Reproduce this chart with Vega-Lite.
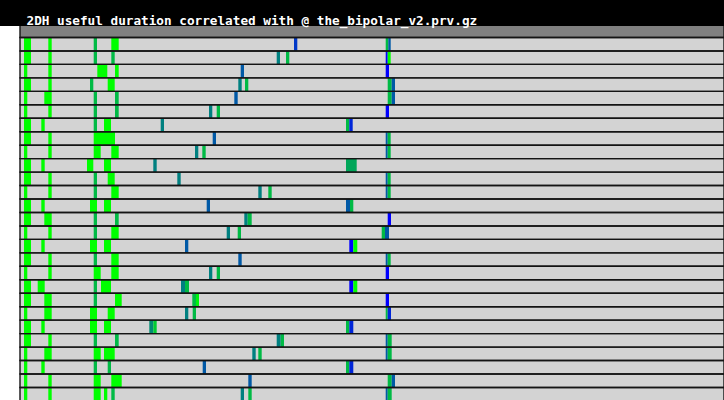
{
  "$schema": "https://vega.github.io/schema/vega-lite/v6.json",
  "width": 724,
  "height": 374,
  "autosize": "none",
  "padding": {"top": 26, "left": 0, "right": 0, "bottom": 0},
  "background": "black",
  "title": {
    "text": "2DH useful duration correlated with @ the_bipolar_v2.prv.gz",
    "color": "white",
    "font": "DejaVu Sans Mono",
    "fontWeight": "bold",
    "fontSize": 12.7,
    "anchor": "start",
    "frame": "group",
    "baseline": "alphabetic",
    "offset": -12,
    "dx": 26.5
  },
  "config": {"view": {"fill": "white", "stroke": null}},
  "datasets": {
    "rows": [
      {"row": 0}, {"row": 1}, {"row": 2}, {"row": 3}, {"row": 4}, {"row": 5}, {"row": 6}, {"row": 7},
      {"row": 8}, {"row": 9}, {"row": 10}, {"row": 11}, {"row": 12}, {"row": 13}, {"row": 14},
      {"row": 15}, {"row": 16}, {"row": 17}, {"row": 18}, {"row": 19}, {"row": 20}, {"row": 21},
      {"row": 22}, {"row": 23}, {"row": 24}, {"row": 25}, {"row": 26}, {"row": 27}
    ],
    "events": [
      {"row":1,"start":4,"end":11,"value":0},{"row":1,"start":28.3,"end":31.7,"value":0},{"row":1,"start":73.7,"end":77,"value":0.27},{"row":1,"start":91.3,"end":98.7,"value":0},{"row":1,"start":274,"end":277.3,"value":0.78},{"row":1,"start":365.7,"end":368.3,"value":0.27},{"row":1,"start":368.3,"end":370.7,"value":0.65},
      {"row":2,"start":4,"end":11,"value":0},{"row":2,"start":28.3,"end":31.7,"value":0},{"row":2,"start":73.7,"end":77,"value":0.27},{"row":2,"start":91.3,"end":94.7,"value":0.27},{"row":2,"start":256.7,"end":260,"value":0.5},{"row":2,"start":266,"end":269.3,"value":0.27},{"row":2,"start":365.7,"end":367.7,"value":1},{"row":2,"start":367.7,"end":370.7,"value":0},
      {"row":3,"start":4,"end":7.3,"value":0},{"row":3,"start":28.3,"end":31.7,"value":0},{"row":3,"start":77.3,"end":87.3,"value":0},{"row":3,"start":95,"end":98.7,"value":0},{"row":3,"start":220.7,"end":224,"value":0.65},{"row":3,"start":365.7,"end":369,"value":1},
      {"row":4,"start":4,"end":11,"value":0},{"row":4,"start":28.3,"end":31.7,"value":0},{"row":4,"start":70,"end":73.3,"value":0.27},{"row":4,"start":87.7,"end":94.7,"value":0},{"row":4,"start":218.3,"end":221.7,"value":0.5},{"row":4,"start":225,"end":228.3,"value":0.27},{"row":4,"start":367.7,"end":371.7,"value":0.27},{"row":4,"start":371.7,"end":375,"value":0.65},
      {"row":5,"start":4,"end":7.3,"value":0},{"row":5,"start":24.3,"end":31.7,"value":0},{"row":5,"start":73.7,"end":77,"value":0.27},{"row":5,"start":95,"end":98.7,"value":0.27},{"row":5,"start":214.3,"end":217.7,"value":0.65},{"row":5,"start":367.7,"end":371.7,"value":0.27},{"row":5,"start":371.7,"end":375,"value":0.65},
      {"row":6,"start":4,"end":7.3,"value":0},{"row":6,"start":28.3,"end":31.7,"value":0},{"row":6,"start":73.7,"end":77,"value":0.27},{"row":6,"start":95,"end":98.7,"value":0.27},{"row":6,"start":189,"end":192.3,"value":0.5},{"row":6,"start":196.7,"end":200,"value":0.27},{"row":6,"start":365.7,"end":369,"value":1},
      {"row":7,"start":4,"end":11,"value":0},{"row":7,"start":21.3,"end":24.7,"value":0},{"row":7,"start":73.7,"end":77,"value":0.27},{"row":7,"start":84,"end":91,"value":0},{"row":7,"start":140.7,"end":144,"value":0.5},{"row":7,"start":326,"end":329.3,"value":0.27},{"row":7,"start":329.3,"end":332.7,"value":0.85},
      {"row":8,"start":4,"end":11,"value":0},{"row":8,"start":28.3,"end":31.7,"value":0},{"row":8,"start":73.7,"end":95,"value":0},{"row":8,"start":192.7,"end":196,"value":0.65},{"row":8,"start":365.7,"end":367.7,"value":0.65},{"row":8,"start":367.7,"end":370.7,"value":0.27},
      {"row":9,"start":4,"end":7.3,"value":0},{"row":9,"start":28.3,"end":31.7,"value":0},{"row":9,"start":73.7,"end":80.7,"value":0},{"row":9,"start":91.3,"end":98.7,"value":0},{"row":9,"start":175,"end":178.3,"value":0.5},{"row":9,"start":182.3,"end":185.7,"value":0.27},{"row":9,"start":365.7,"end":367.7,"value":0.65},{"row":9,"start":367.7,"end":370.7,"value":0.27},
      {"row":10,"start":4,"end":11,"value":0},{"row":10,"start":21.3,"end":24.7,"value":0},{"row":10,"start":67,"end":73.3,"value":0},{"row":10,"start":84,"end":91,"value":0},{"row":10,"start":133.3,"end":136.7,"value":0.5},{"row":10,"start":326,"end":336.7,"value":0.35},
      {"row":11,"start":4,"end":11,"value":0},{"row":11,"start":28.3,"end":31.7,"value":0},{"row":11,"start":73.7,"end":77,"value":0.27},{"row":11,"start":87.7,"end":94.7,"value":0},{"row":11,"start":157.3,"end":160.7,"value":0.5},{"row":11,"start":365.7,"end":367.7,"value":0.65},{"row":11,"start":367.7,"end":370.7,"value":0.27},
      {"row":12,"start":4,"end":7.3,"value":0},{"row":12,"start":28.3,"end":31.7,"value":0},{"row":12,"start":73.7,"end":77,"value":0.27},{"row":12,"start":91.3,"end":98.7,"value":0},{"row":12,"start":238.3,"end":241.7,"value":0.5},{"row":12,"start":248.3,"end":251.7,"value":0.27},{"row":12,"start":365.7,"end":367.7,"value":0.65},{"row":12,"start":367.7,"end":370.7,"value":0.27},
      {"row":13,"start":4,"end":11,"value":0},{"row":13,"start":21.3,"end":24.7,"value":0},{"row":13,"start":70,"end":77,"value":0},{"row":13,"start":84,"end":91,"value":0},{"row":13,"start":186.7,"end":190,"value":0.65},{"row":13,"start":326,"end":330,"value":0.65},{"row":13,"start":330,"end":333.3,"value":0.27},
      {"row":14,"start":4,"end":11,"value":0},{"row":14,"start":24.3,"end":31.7,"value":0},{"row":14,"start":73.7,"end":77,"value":0.27},{"row":14,"start":95,"end":98.7,"value":0.27},{"row":14,"start":224.3,"end":227.7,"value":0.5},{"row":14,"start":227.7,"end":231.7,"value":0.27},{"row":14,"start":367.7,"end":371,"value":1},
      {"row":15,"start":4,"end":7.3,"value":0},{"row":15,"start":28.3,"end":31.7,"value":0},{"row":15,"start":73.7,"end":77,"value":0.27},{"row":15,"start":91.3,"end":98.7,"value":0},{"row":15,"start":206.7,"end":210,"value":0.5},{"row":15,"start":217.7,"end":221,"value":0.27},{"row":15,"start":361.7,"end":365,"value":0.27},{"row":15,"start":365,"end":369,"value":0.65},
      {"row":16,"start":4,"end":11,"value":0},{"row":16,"start":21.3,"end":24.7,"value":0},{"row":16,"start":70,"end":77,"value":0},{"row":16,"start":84,"end":91,"value":0},{"row":16,"start":165,"end":168.3,"value":0.65},{"row":16,"start":329.3,"end":333.3,"value":1},{"row":16,"start":333.3,"end":337.3,"value":0},
      {"row":17,"start":4,"end":11,"value":0},{"row":17,"start":28.3,"end":31.7,"value":0},{"row":17,"start":73.7,"end":77,"value":0.27},{"row":17,"start":91.3,"end":98.7,"value":0},{"row":17,"start":218.3,"end":221.7,"value":0.65},{"row":17,"start":365.7,"end":367.7,"value":0.65},{"row":17,"start":367.7,"end":370.7,"value":0.27},
      {"row":18,"start":4,"end":7.3,"value":0},{"row":18,"start":28.3,"end":31.7,"value":0},{"row":18,"start":73.7,"end":80.7,"value":0},{"row":18,"start":91.3,"end":98.7,"value":0},{"row":18,"start":189,"end":192.3,"value":0.5},{"row":18,"start":196.7,"end":200,"value":0.27},{"row":18,"start":365.7,"end":369,"value":1},
      {"row":19,"start":4,"end":11,"value":0},{"row":19,"start":17.7,"end":24.7,"value":0},{"row":19,"start":73.7,"end":77,"value":0.27},{"row":19,"start":81,"end":91,"value":0},{"row":19,"start":161,"end":165,"value":0.5},{"row":19,"start":165,"end":169,"value":0.27},{"row":19,"start":329.3,"end":333.3,"value":1},{"row":19,"start":333.3,"end":337.3,"value":0},
      {"row":20,"start":4,"end":11,"value":0},{"row":20,"start":24.3,"end":31.7,"value":0},{"row":20,"start":73.7,"end":77,"value":0.27},{"row":20,"start":95,"end":101.7,"value":0},{"row":20,"start":172.3,"end":176,"value":0.27},{"row":20,"start":176,"end":179,"value":0.05},{"row":20,"start":365.7,"end":369,"value":1},
      {"row":21,"start":4,"end":7.3,"value":0},{"row":21,"start":24.3,"end":31.7,"value":0},{"row":21,"start":70,"end":77,"value":0},{"row":21,"start":87.7,"end":94.7,"value":0},{"row":21,"start":165,"end":168.3,"value":0.5},{"row":21,"start":172.7,"end":176,"value":0.27},{"row":21,"start":365.7,"end":367.7,"value":0.27},{"row":21,"start":367.7,"end":371,"value":0.85},
      {"row":22,"start":4,"end":11,"value":0},{"row":22,"start":21.3,"end":24.7,"value":0},{"row":22,"start":70,"end":77,"value":0},{"row":22,"start":84,"end":91,"value":0},{"row":22,"start":129.3,"end":133.3,"value":0.45},{"row":22,"start":133.3,"end":136.7,"value":0.2},{"row":22,"start":326,"end":329.3,"value":0.27},{"row":22,"start":329.3,"end":333.3,"value":0.85},
      {"row":23,"start":4,"end":11,"value":0},{"row":23,"start":28.3,"end":31.7,"value":0},{"row":23,"start":73.7,"end":77,"value":0.27},{"row":23,"start":95,"end":98.7,"value":0.27},{"row":23,"start":256.7,"end":260.7,"value":0.5},{"row":23,"start":260.7,"end":264,"value":0.27},{"row":23,"start":365.7,"end":367.7,"value":0.65},{"row":23,"start":367.7,"end":371.7,"value":0.27},
      {"row":24,"start":4,"end":7.3,"value":0},{"row":24,"start":24.3,"end":31.7,"value":0},{"row":24,"start":73.7,"end":80.7,"value":0},{"row":24,"start":84,"end":94.7,"value":0},{"row":24,"start":232.3,"end":235.7,"value":0.5},{"row":24,"start":238.3,"end":241.7,"value":0.27},{"row":24,"start":365.7,"end":367.7,"value":0.65},{"row":24,"start":367.7,"end":371.7,"value":0.27},
      {"row":25,"start":4,"end":7.3,"value":0},{"row":25,"start":21.3,"end":24.7,"value":0},{"row":25,"start":73.7,"end":77,"value":0.27},{"row":25,"start":87.7,"end":91,"value":0.27},{"row":25,"start":182.7,"end":186,"value":0.65},{"row":25,"start":326,"end":329.3,"value":0.27},{"row":25,"start":329.3,"end":333.3,"value":0.85},
      {"row":26,"start":4,"end":7.3,"value":0},{"row":26,"start":28.3,"end":31.7,"value":0},{"row":26,"start":73.7,"end":80.7,"value":0},{"row":26,"start":91.3,"end":101.7,"value":0},{"row":26,"start":228.3,"end":231.7,"value":0.65},{"row":26,"start":367.7,"end":371.7,"value":0.27},{"row":26,"start":371.7,"end":375,"value":0.65},
      {"row":27,"start":4,"end":7.3,"value":0},{"row":27,"start":28.3,"end":31.7,"value":0},{"row":27,"start":73.7,"end":80.7,"value":0},{"row":27,"start":84,"end":87.3,"value":0},{"row":27,"start":91.3,"end":94.7,"value":0.27},{"row":27,"start":220.7,"end":224,"value":0.5},{"row":27,"start":228.3,"end":231.7,"value":0.27},{"row":27,"start":365.7,"end":367.7,"value":0.65},{"row":27,"start":367.7,"end":371.7,"value":0.27}
    ]
  },
  "encoding": {
    "y": {
      "field": "row",
      "type": "ordinal",
      "axis": null,
      "scale": {
        "domain": [0,1,2,3,4,5,6,7,8,9,10,11,12,13,14,15,16,17,18,19,20,21,22,23,24,25,26,27],
        "range": [-1.96, 374.92],
        "paddingInner": 0,
        "paddingOuter": 0
      }
    }
  },
  "layer": [
    {
      "data": {"name": "rows"},
      "transform": [{"filter": "datum.row > 0"}],
      "mark": {"type": "rect", "fill": "#d3d3d3", "clip": true},
      "encoding": {
        "x": {"datum": 0, "type": "quantitative", "axis": null, "scale": {"domain": [-20, 704], "nice": false, "zero": false}},
        "x2": {"datum": 704}
      }
    },
    {
      "data": {"name": "rows"},
      "transform": [{"filter": "datum.row == 0"}],
      "mark": {"type": "rect", "fill": "#808080", "clip": true},
      "encoding": {
        "x": {"datum": 0, "type": "quantitative"},
        "x2": {"datum": 704}
      }
    },
    {
      "data": {"name": "events"},
      "mark": {"type": "rect", "clip": true},
      "encoding": {
        "x": {"field": "start", "type": "quantitative"},
        "x2": {"field": "end"},
        "color": {
          "field": "value",
          "type": "quantitative",
          "legend": null,
          "scale": {"domain": [0, 1], "range": ["#00ff00", "#0000ff"], "interpolate": "rgb"}
        }
      }
    },
    {
      "data": {"name": "rows"},
      "mark": {"type": "rect", "fillOpacity": 0, "stroke": "#141414", "strokeWidth": 1.4, "clip": true},
      "encoding": {
        "x": {"datum": 0, "type": "quantitative"},
        "x2": {"datum": 704}
      }
    }
  ]
}
